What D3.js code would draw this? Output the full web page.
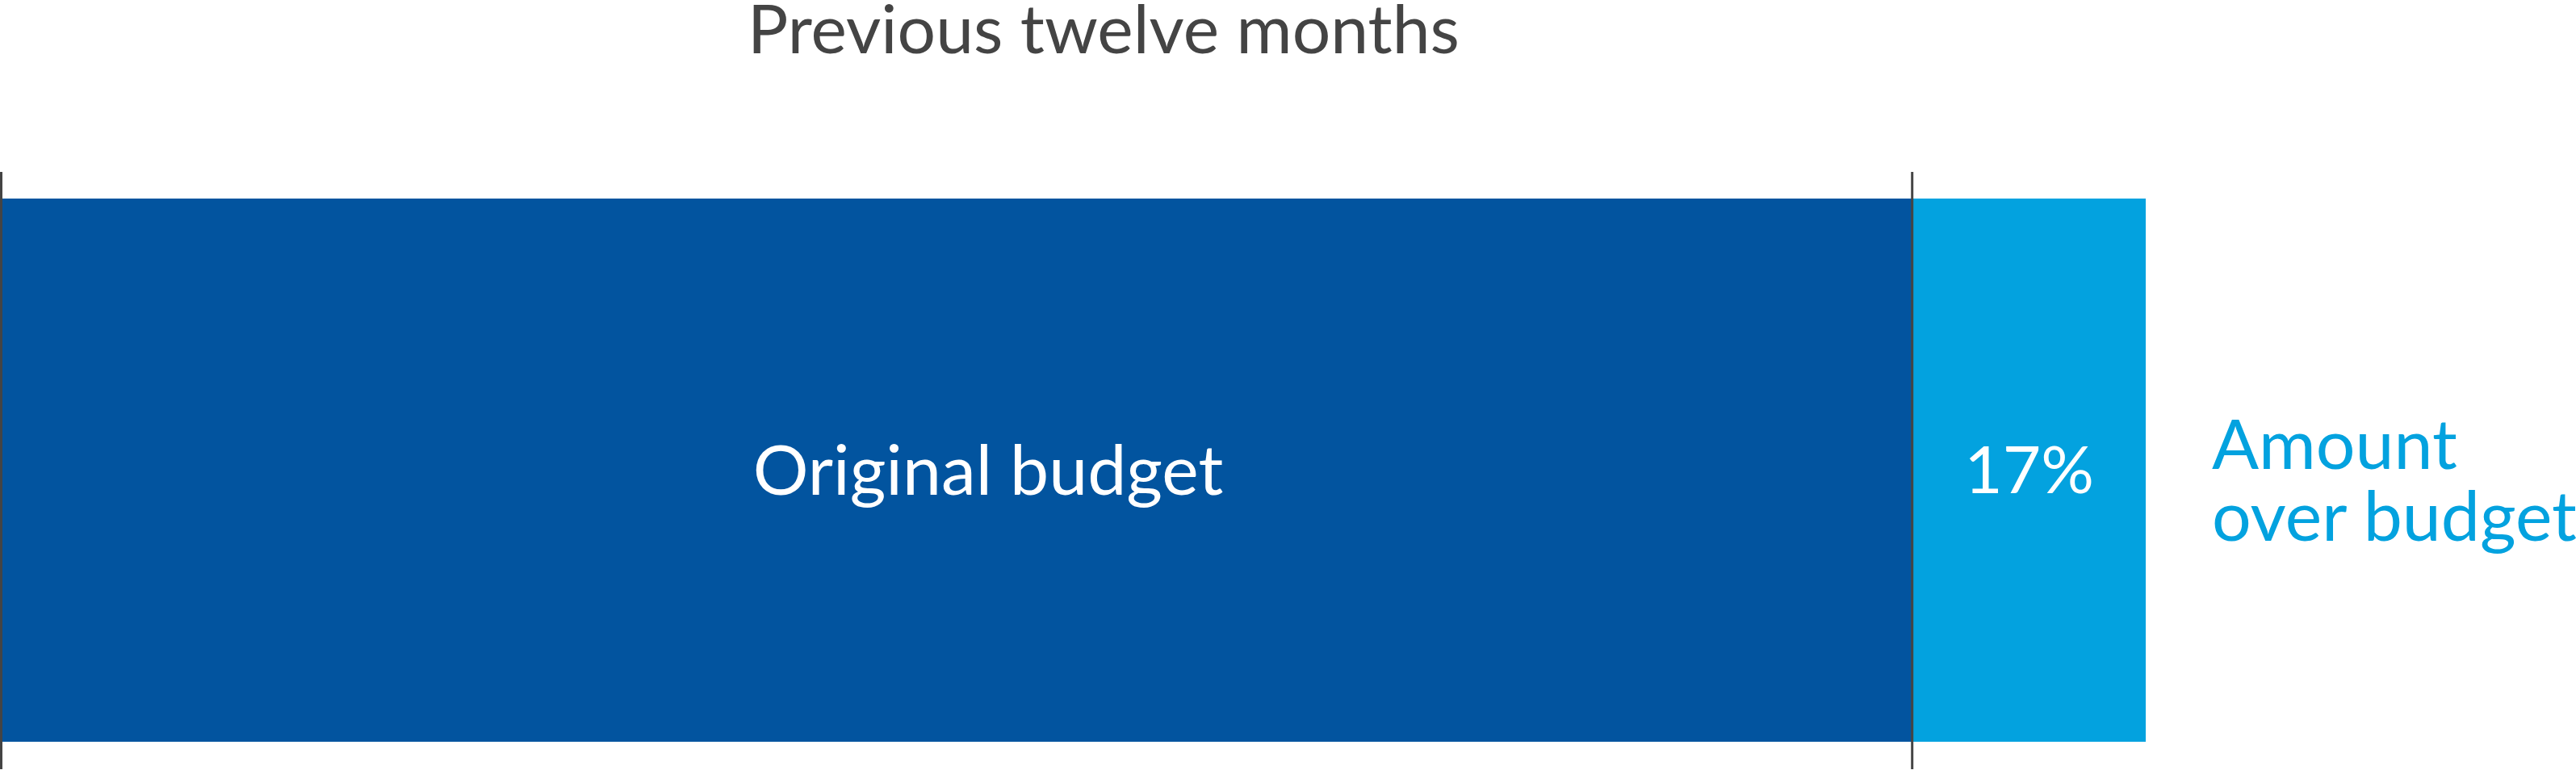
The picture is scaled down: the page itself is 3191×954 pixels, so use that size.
<!DOCTYPE html>
<html>
<head>
<meta charset="utf-8">
<script src="https://cdn.jsdelivr.net/npm/d3@7"></script>
<style>
  body { margin: 0; background: #fff; }
  text { font-family: Lato, "Noto Sans", sans-serif; }
</style>
</head>
<body>
<script>
// Data
var segments = ['Original budget', 'Amount over budget'];
var values = [100, 12.2];
var valueLabels = ['', '17%'];
var title = 'Previous twelve months';
var sideLabel = ['Amount', 'over budget'];
var colors = ['#02549f', '#03a2df'];

var width = 3191, height = 954;

var svg = d3.select('body').append('svg')
  .attr('width', width)
  .attr('height', height);

// Stack the segments end to end
var starts = [0];
values.forEach(function (v, i) { starts.push(starts[i] + v); });
var total = starts[starts.length - 1];

var x = d3.scaleLinear().domain([0, total]).range([2, 2658]);
var y = d3.scaleBand().domain(['bar']).range([246, 919]);

// Title
svg.append('text')
  .attr('x', 1367)
  .attr('y', 66)
  .attr('text-anchor', 'middle')
  .attr('fill', '#444')
  .style('font-size', '84px')
  .text(title);

// Bars
svg.append('g')
  .selectAll('rect')
  .data(values)
  .enter()
  .append('rect')
  .attr('x', function (d, i) { return x(starts[i]); })
  .attr('y', y('bar'))
  .attr('width', function (d) { return x(d) - x(0); })
  .attr('height', y.bandwidth())
  .attr('fill', function (d, i) { return colors[i]; });

// Reference lines at start and at original budget
svg.append('g')
  .selectAll('line')
  .data([0, values[0]])
  .enter()
  .append('line')
  .attr('x1', function (d) { return x(d) - 0.5; })
  .attr('x2', function (d) { return x(d) - 0.5; })
  .attr('y1', 213)
  .attr('y2', 953)
  .attr('stroke', '#444')
  .attr('stroke-width', 3);

var midY = y('bar') + y.bandwidth() / 2;

// Label inside the dark bar
svg.append('text')
  .attr('x', 1224)
  .attr('y', midY)
  .attr('dy', '0.35em')
  .attr('text-anchor', 'middle')
  .attr('fill', '#fff')
  .style('font-size', '86px')
  .text(segments[0]);

// Percentage inside the light bar
svg.append('text')
  .attr('x', (x(starts[1]) + x(starts[2])) / 2)
  .attr('y', midY)
  .attr('dy', '0.35em')
  .attr('text-anchor', 'middle')
  .attr('fill', '#fff')
  .style('font-size', '82px')
  .text(valueLabels[1]);

// Label to the right of the bar, one text per line
svg.append('g')
  .selectAll('text')
  .data(sideLabel)
  .enter()
  .append('text')
  .attr('x', x(total) + 82)
  .attr('y', function (d, i) { return 581 + i * 89; })
  .attr('fill', colors[1])
  .style('font-size', '86px')
  .text(function (d) { return d; });
</script>
</body>
</html>
